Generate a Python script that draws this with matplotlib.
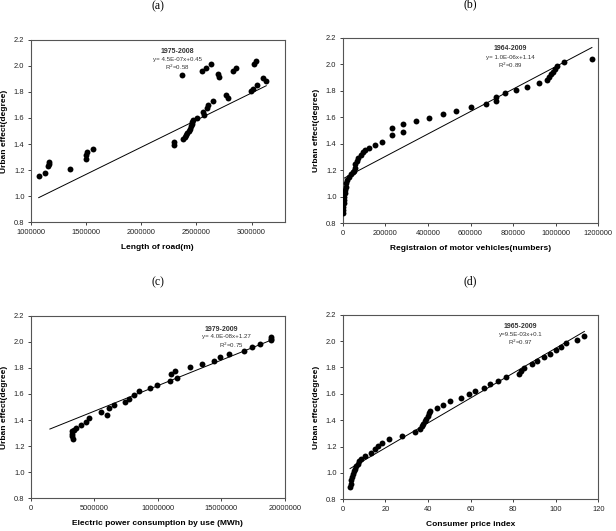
import numpy as np
import matplotlib.pyplot as plt
from matplotlib.ticker import FormatStrFormatter

plt.rcParams['font.family'] = ['Liberation Sans', 'DejaVu Sans']

# DATOS (a) longitud de carreteras
road_x = [1072500, 1133000, 1157000, 1165000, 1170000, 1356000, 1500000, 1504000, 1510000, 1562000,
          2296000, 2299000, 2366000, 2381000, 2393000, 2405000, 2417000, 2429000, 2441000, 2453000,
          2459000, 2465000, 2471000, 2502000, 2550000, 2589000, 2631000, 2559000, 2565000, 2598000,
          2604000, 2650000, 2692000, 2704000, 2767000, 2789000, 2831000, 2855000, 2997000, 3009000,
          3024000, 3042000, 3045000, 3108000, 3133000]
road_y = [1.154, 1.180, 1.231, 1.250, 1.262, 1.205, 1.289, 1.315, 1.338, 1.363,
          1.414, 1.389, 1.931, 1.442, 1.457, 1.473, 1.488, 1.503, 1.518, 1.536,
          1.554, 1.569, 1.587, 1.597, 1.962, 1.982, 2.013, 1.646, 1.620, 1.676,
          1.697, 1.727, 1.936, 1.911, 1.778, 1.753, 1.962, 1.982, 1.804, 1.824,
          2.013, 2.033, 1.855, 1.906, 1.885]
road_fit_x = [1072500, 3133000]
road_fit_y = [0.989, 1.847]

# DATOS (b) vehiculos
veh_x = [0, 1565, 3130, 4700, 6260, 7820, 9390, 10950, 14080, 17210,
         21900, 28170, 39120, 46950, 53200, 56300, 59500, 65700, 73550, 84500,
         97000, 106400, 122000, 150200, 184700, 233200, 233200, 284800, 284800, 345800,
         405300, 469500, 533600, 604100, 671400, 719900, 719900, 762200, 813800, 863800,
         921800, 957700, 967100, 976500, 985900, 995300, 1007800, 1039100, 1169000]
veh_y = [0.874, 0.899, 0.924, 0.950, 0.975, 1.000, 1.025, 1.050, 1.076, 1.101,
         1.126, 1.151, 1.169, 1.184, 1.194, 1.214, 1.244, 1.270, 1.295, 1.315,
         1.335, 1.353, 1.370, 1.390, 1.416, 1.466, 1.521, 1.491, 1.547, 1.572,
         1.597, 1.625, 1.650, 1.675, 1.700, 1.723, 1.753, 1.781, 1.804, 1.831,
         1.856, 1.884, 1.904, 1.924, 1.945, 1.965, 1.985, 2.015, 2.040]
veh_fit_x = [0, 1170000]
veh_fit_y = [1.135, 2.126]

# DATOS (c) consumo electrico
elec_x = [3316000, 3290000, 3260000, 3260000, 3400000, 3550000, 3980000, 4350000, 4560000, 5520000,
          5970000, 6150000, 6580000, 7400000, 7750000, 8120000, 8510000, 9420000, 9970000, 10980000,
          11030000, 11380000, 11540000, 12550000, 13470000, 14400000, 14910000, 15620000, 16760000, 17400000,
          18090000, 18910000, 18910000, 18910000]
elec_y = [1.254, 1.275, 1.295, 1.313, 1.326, 1.338, 1.361, 1.387, 1.412, 1.463,
          1.438, 1.491, 1.519, 1.542, 1.565, 1.595, 1.621, 1.646, 1.672, 1.697,
          1.751, 1.779, 1.725, 1.804, 1.830, 1.855, 1.883, 1.908, 1.931, 1.959,
          1.985, 2.010, 2.025, 2.038]
elec_fit_x = [1510000, 18940000]
elec_fit_y = [1.331, 2.013]

# DATOS (d) IPC
cpi_x = [3.44, 3.76, 4.07, 4.38, 4.70, 5.32, 5.95, 6.42, 7.04, 7.67,
         8.45, 10.64, 13.15, 15.18, 16.43, 18.62, 21.76, 27.86, 33.80, 36.31,
         37.25, 37.87, 38.50, 39.12, 39.91, 40.69, 41.16, 44.13, 46.95, 50.55,
         55.56, 59.47, 62.13, 66.20, 69.33, 73.08, 76.68, 82.94, 83.88, 85.29,
         89.05, 91.39, 94.52, 97.34, 100.16, 102.50, 105.0, 109.86, 113.46]
cpi_y = [0.894, 0.919, 0.944, 0.970, 0.990, 1.013, 1.033, 1.053, 1.071, 1.088,
         1.109, 1.129, 1.154, 1.179, 1.205, 1.230, 1.258, 1.283, 1.311, 1.336,
         1.356, 1.374, 1.391, 1.412, 1.432, 1.452, 1.467, 1.490, 1.518, 1.543,
         1.568, 1.596, 1.621, 1.646, 1.672, 1.699, 1.725, 1.753, 1.773, 1.798,
         1.826, 1.851, 1.879, 1.904, 1.929, 1.957, 1.982, 2.010, 2.035]
cpi_fit_x = [3.44, 113.46]
cpi_fit_y = [1.033, 2.073]

W, H = 616, 531
fig = plt.figure(figsize=(W/100, H/100), dpi=100)

def caja(l, t, r, b):
    return [l/W, 1 - b/H, (r - l)/W, (b - t)/H]

paneles = [
    ("(a)", caja(30.7, 39.7, 284.7, 222.3), road_x, road_y, road_fit_x, road_fit_y,
     (1000000, 3300000), np.arange(1000000, 3000001, 500000), "Length of road(m)",
     ["1975-2008", "y= 4.5E-07x+0.45", "R$^2$=0.58"], [(2330000, 2.11), (2330000, 2.05), (2330000, 1.99)]),
    ("(b)", caja(342.7, 37.7, 598.3, 223.3), veh_x, veh_y, veh_fit_x, veh_fit_y,
     (0, 1200000), np.arange(0, 1200001, 200000), "Registraion of motor vehicles(numbers)",
     ["1964-2009", "y= 1.0E-06x+1.14", "R$^2$=0.89"], [(785000, 2.115), (785000, 2.05), (785000, 1.99)]),
    ("(c)", caja(30.7, 315.7, 284.7, 498.3), elec_x, elec_y, elec_fit_x, elec_fit_y,
     (0, 20000000), np.arange(0, 20000001, 5000000), "Electric power consumption by use (MWh)",
     ["1979-2009", "y= 4.0E-08x+1.27", "R$^2$=0.75"], [(15000000, 2.097), (15400000, 2.04), (15800000, 1.97)]),
    ("(d)", caja(342.7, 314.7, 598.3, 499.3), cpi_x, cpi_y, cpi_fit_x, cpi_fit_y,
     (0, 120), np.arange(0, 121, 20), "Consumer price index",
     ["1965-2009", "y=9.5E-03x+0.1", "R$^2$=0.97"], [(83.6, 2.114), (83.6, 2.048), (83.6, 1.987)]),
]

for titulo, pos, x, y, fx, fy, xlim, xt, xlab, textos, tpos in paneles:
    ax = fig.add_axes(pos)
    ax.plot(fx, fy, color='black', linewidth=0.7)
    ax.scatter(x, y, s=18, color='black', zorder=3, linewidths=0)
    ax.set_xlim(*xlim)
    ax.set_ylim(0.8, 2.2)
    ax.set_xticks(xt)
    ax.set_yticks(np.arange(0.8, 2.21, 0.2))
    ax.ticklabel_format(axis='x', style='plain', useOffset=False)
    ax.yaxis.set_major_formatter(FormatStrFormatter('%.1f'))
    ax.tick_params(labelsize=5.4, length=2.5, width=0.6, direction='out', pad=2, colors='#222222')
    for s in ax.spines.values():
        s.set_color('#555555')
        s.set_linewidth(0.8)
    ax.set_xlabel(xlab, fontsize=6.0, fontweight='bold', labelpad=6)
    ax.set_ylabel("Urban effect(degree)", fontsize=6.0, fontweight='bold', labelpad=4)
    for i, (txt, (px, py)) in enumerate(zip(textos, tpos)):
        ax.text(px, py, txt, ha='center', va='center',
                fontsize=5.0 if i == 0 else 4.4,
                fontweight='bold' if i == 0 else 'normal', color='#333333')
    cx = pos[0] + pos[2]/2
    ty = pos[1] + pos[3] + 33/H
    fig.text(cx, ty, titulo, ha='center', va='center', fontsize=8.5, family='Liberation Serif')

fig.savefig("out.png", dpi=100)
